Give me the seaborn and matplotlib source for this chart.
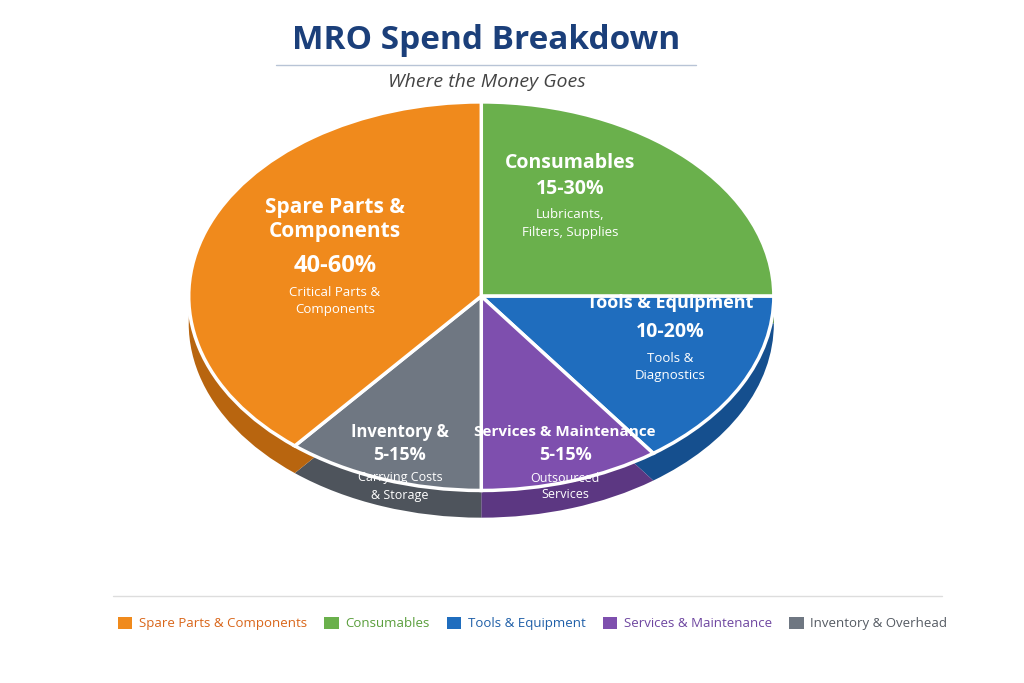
import matplotlib
matplotlib.use("Agg")
import matplotlib.pyplot as plt
import seaborn as sns
from matplotlib.patches import Patch
from matplotlib.lines import Line2D

sns.set_theme(style="white")
plt.rcParams['font.family'] = ['Open Sans', 'DejaVu Sans']

categories = ["Consumables", "Tools & Equipment", "Services & Maintenance",
              "Inventory & Overhead", "Spare Parts & Components"]
values = [25, 15, 10, 11, 39]
colors = ["#6AB04C", "#1F6DBE", "#7E4FAE", "#6F7782", "#F08A1C"]
dark = ["#4C8635", "#154F8E", "#5C3782", "#4E545C", "#B8650F"]
legend_order = [4, 0, 1, 2, 3]
legend_text_colors = ["#D9661A", "#5A9E3C", "#1F5FA8", "#6E46A0", "#555B63"]

fig = plt.figure(figsize=(10.24, 6.83), dpi=100)
ax = fig.add_axes([0.17, 0.225, 0.6, 0.64])
ax.pie(values, colors=dark, startangle=90, counterclock=False, center=(0, -0.14),
       wedgeprops=dict(linewidth=0))
ax.pie(values, colors=colors, startangle=90, counterclock=False,
       wedgeprops=dict(edgecolor="white", linewidth=2.5))
ax.set_aspect("auto")
ax.set_xlim(-1.05, 1.05); ax.set_ylim(-1.2, 1.05)

fig.text(0.475, 0.94, "MRO Spend Breakdown", ha="center", va="center",
         fontsize=24, fontweight="bold", color="#1B3F7A")
fig.add_artist(Line2D([0.27, 0.68], [0.905, 0.905], color="#B8C4D6", lw=1))
fig.text(0.475, 0.88, "Where the Money Goes", ha="center", va="center",
         fontsize=14, style="italic", color="#444444")

def lab(x, y, lines):
    for i, (t, s, w) in enumerate(lines):
        fig.text(x / 1024, 1 - y[i] / 683, t, ha="center", va="center",
                 fontsize=s, fontweight=w, color="white")

lab(335, [208, 232, 266, 292, 310], [("Spare Parts &", 15, "bold"), ("Components", 15, "bold"),
    ("40-60%", 17, "bold"), ("Critical Parts &", 9.5, "normal"), ("Components", 9.5, "normal")])
lab(570, [163, 189, 215, 233], [("Consumables", 14, "bold"), ("15-30%", 14, "bold"),
    ("Lubricants,", 9.5, "normal"), ("Filters, Supplies", 9.5, "normal")])
lab(670, [303, 332, 358, 376], [("Tools & Equipment", 13, "bold"), ("10-20%", 14, "bold"),
    ("Tools &", 9.5, "normal"), ("Diagnostics", 9.5, "normal")])
lab(565, [432, 455, 478, 494], [("Services & Maintenance", 11, "bold"), ("5-15%", 13, "bold"),
    ("Outsourced", 9, "normal"), ("Services", 9, "normal")])
lab(400, [432, 455, 478, 495], [("Inventory &", 12, "bold"), ("5-15%", 13, "bold"),
    ("Carrying Costs", 9, "normal"), ("& Storage", 9, "normal")])

fig.add_artist(Line2D([0.11, 0.92], [0.128, 0.128], color="#DDDDDD", lw=1))
handles = [Patch(facecolor=colors[i], edgecolor="none") for i in legend_order]
leg = fig.legend(handles, [categories[i] for i in legend_order], loc="center",
                 bbox_to_anchor=(0.52, 0.087), ncol=5, frameon=False, fontsize=9.5,
                 handlelength=1.1, handleheight=1.1, columnspacing=1.3, handletextpad=0.5)
for t, c in zip(leg.get_texts(), legend_text_colors):
    t.set_color(c)

fig.savefig("out.png", dpi=100, facecolor="white")
